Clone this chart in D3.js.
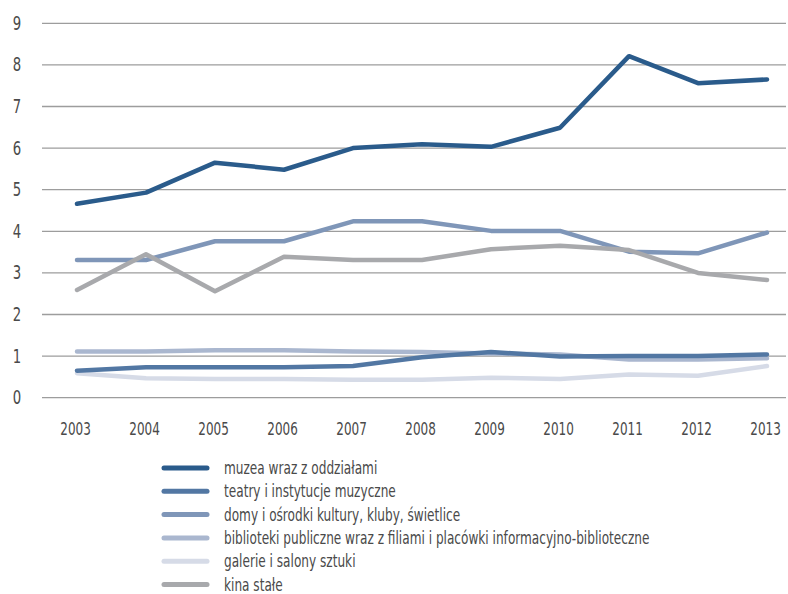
<!DOCTYPE html>
<html>
<head>
<meta charset="utf-8">
<script src="https://cdn.jsdelivr.net/npm/d3@7"></script>
<style>
  html, body { margin: 0; padding: 0; background: #fff; }
  svg { display: block; font-family: "DejaVu Sans", sans-serif; }
</style>
</head>
<body>
<svg id="chart" width="788" height="594"></svg>
<script>
const years = ["2003","2004","2005","2006","2007","2008","2009","2010","2011","2012","2013"];
const yTicks = [0,1,2,3,4,5,6,7,8,9];
const seriesNames = [
  "muzea wraz z oddziałami",
  "teatry i instytucje muzyczne",
  "domy i ośrodki kultury, kluby, świetlice",
  "biblioteki publiczne wraz z filiami i placówki informacyjno-biblioteczne",
  "galerie i salony sztuki",
  "kina stałe"
];
const muzea      = [4.66, 4.93, 5.65, 5.48, 6.00, 6.09, 6.03, 6.49, 8.21, 7.56, 7.65];
const teatry     = [0.65, 0.73, 0.73, 0.73, 0.76, 0.97, 1.10, 0.99, 1.00, 1.00, 1.04];
const domy       = [3.31, 3.31, 3.76, 3.76, 4.24, 4.24, 4.01, 4.01, 3.51, 3.47, 3.97];
const biblioteki = [1.11, 1.11, 1.14, 1.14, 1.11, 1.10, 1.06, 1.04, 0.92, 0.92, 0.95];
const galerie    = [0.59, 0.47, 0.45, 0.45, 0.43, 0.43, 0.48, 0.45, 0.56, 0.53, 0.76];
const kina       = [2.59, 3.45, 2.56, 3.39, 3.31, 3.31, 3.57, 3.65, 3.55, 3.00, 2.83];
const colors = ["#2a5b8b", "#5277a3", "#7f96b8", "#aab7cf", "#d6dbe7", "#a8a9ac"];

const allSeries = [muzea, teatry, domy, biblioteki, galerie, kina];
const drawOrder = [4, 3, 1, 2, 5, 0];

const svg = d3.select("#chart");
const x = d3.scalePoint().domain(years).range([77, 767]);
const y = d3.scaleLinear().domain([0, 9]).range([397.7, 23.3]);

// measure helper for condensed look
function measure(str, size) {
  const t = svg.append("text").attr("font-size", size).text(str);
  const w = t.node().getComputedTextLength();
  t.remove();
  return w;
}
const tickSize = 18;
const tickScale = 30.5 / measure("2003", tickSize);
const legSize = 18;
const legScale = 426 / measure(seriesNames[3], legSize);

// grid lines
svg.append("g").selectAll("line").data(yTicks).join("line")
  .attr("x1", 42).attr("x2", 786)
  .attr("y1", d => y(d)).attr("y2", d => y(d))
  .attr("stroke", "#9d9d9d").attr("stroke-width", 1.3);

// y labels
svg.append("g").selectAll("text").data(yTicks).join("text")
  .attr("transform", d => `translate(17,${y(d) + 6.5}) scale(${tickScale * 1.05},1)`)
  .attr("text-anchor", "middle")
  .attr("font-size", 19).attr("fill", "#4a4a4a")
  .text(d => d);

// x labels
svg.append("g").selectAll("text").data(years).join("text")
  .attr("transform", d => `translate(${x(d) - 1.5},435) scale(${tickScale},1)`)
  .attr("text-anchor", "middle")
  .attr("font-size", tickSize).attr("fill", "#4a4a4a")
  .text(d => d);

const line = d3.line().x((d, i) => x(years[i])).y(d => y(d));

svg.append("g").selectAll("path").data(drawOrder).join("path")
  .attr("d", i => line(allSeries[i]))
  .attr("fill", "none")
  .attr("stroke", i => colors[i])
  .attr("stroke-width", 4.5)
  .attr("stroke-linejoin", "round")
  .attr("stroke-linecap", "round");

// legend
const ly = d3.scaleLinear().domain([0, 5]).range([468, 584.5]);
svg.append("g").selectAll("line").data(seriesNames).join("line")
  .attr("x1", 164).attr("x2", 207)
  .attr("y1", (d, i) => ly(i)).attr("y2", (d, i) => ly(i))
  .attr("stroke", (d, i) => colors[i])
  .attr("stroke-width", 5).attr("stroke-linecap", "round");
svg.append("g").selectAll("g").data(seriesNames).join("g")
  .attr("transform", (d, i) => `translate(224,${ly(i) + 6}) scale(${legScale},1)`)
  .append("text")
  .attr("x", 0).attr("y", 0)
  .attr("font-size", legSize).attr("fill", "#4a4a4a")
  .text(d => d);
</script>
</body>
</html>
